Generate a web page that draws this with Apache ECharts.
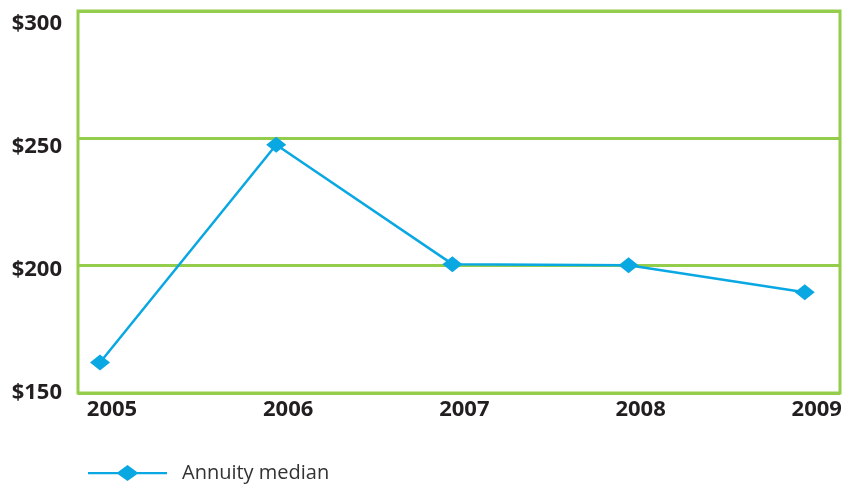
<!DOCTYPE html>
<html>
<head>
<meta charset="utf-8">
<style>
  html, body { margin: 0; padding: 0; background: #ffffff; }
  #chart { width: 857px; height: 487px; }
</style>
<script src="https://cdn.jsdelivr.net/npm/echarts@6/dist/echarts.min.js"></script>
</head>
<body>
<div id="chart"></div>
<script>
// Annual medians, in dollars
const years = [2005, 2006, 2007, 2008, 2009];
const annuityMedian = [162, 247.5, 200.6, 200.2, 189.6];
const yTicks = [150, 200, 250, 300];
const seriesName = 'Annuity median';

const GREEN = '#93cd4b';
const BLUE = '#0aa8e2';
const TEXT = '#231f20';

// Legend marker: a line with a diamond in the middle (79 x 16 box)
const LEGEND_ICON = 'path://M0,6.9 L30,6.9 L39.5,0 L49,6.9 L79,6.9 L79,9.3 L49,9.3 L39.5,16 L30,9.3 L0,9.3 Z';

const chart = echarts.init(document.getElementById('chart'), null, { renderer: 'canvas' });

chart.setOption({
  animation: false,
  backgroundColor: '#ffffff',
  grid: {
    left: 78, right: 17, top: 11, bottom: 94,
    show: true,
    borderColor: GREEN,
    borderWidth: 3,
    backgroundColor: 'transparent'
  },
  legend: {
    left: 83, top: 458,
    itemWidth: 79, itemHeight: 16,
    itemGap: 0,
    textStyle: {
      fontFamily: 'Open Sans', fontSize: 20, color: '#333333',
      padding: [0, 0, 0, 10]
    },
    data: [{ name: seriesName, icon: LEGEND_ICON, itemStyle: { color: BLUE } }]
  },
  xAxis: [
    {
      // data axis
      type: 'value',
      min: 2004.875, max: 2009.2,
      axisLine: { show: false },
      axisTick: { show: false },
      axisLabel: { show: false },
      splitLine: { show: false }
    },
    {
      // year labels
      type: 'value',
      position: 'bottom',
      min: 2004.807, max: 2009.132,
      axisLine: { show: false },
      axisTick: { show: false },
      splitLine: { show: false },
      axisLabel: {
        customValues: years,
        margin: 6,
        fontFamily: 'Open Sans', fontWeight: 'bold', fontSize: 22, color: TEXT,
        formatter: v => String(v)
      }
    }
  ],
  yAxis: [
    {
      // data axis with grid lines
      type: 'value',
      min: yTicks[0], max: yTicks[yTicks.length - 1], interval: 50,
      axisLine: { show: false },
      axisTick: { show: false },
      axisLabel: { show: false },
      splitLine: { show: true, lineStyle: { color: GREEN, width: 3 } }
    },
    {
      // dollar labels
      type: 'value',
      position: 'left',
      min: yTicks[0], max: 305, interval: 50,
      axisLine: { show: false },
      axisTick: { show: false },
      splitLine: { show: false },
      axisLabel: {
        showMaxLabel: false,
        margin: 16,
        fontFamily: 'Open Sans', fontWeight: 'bold', fontSize: 22, color: TEXT,
        formatter: v => (yTicks.indexOf(v) >= 0 ? '$' + v : '')
      }
    }
  ],
  series: [
    {
      name: seriesName,
      type: 'line',
      xAxisIndex: 0,
      yAxisIndex: 0,
      data: years.map((y, i) => [y, annuityMedian[i]]),
      symbol: 'diamond',
      symbolSize: [20, 16],
      lineStyle: { color: BLUE, width: 2.5 },
      itemStyle: { color: BLUE, borderWidth: 0 },
      z: 5
    }
  ]
});
</script>
</body>
</html>
